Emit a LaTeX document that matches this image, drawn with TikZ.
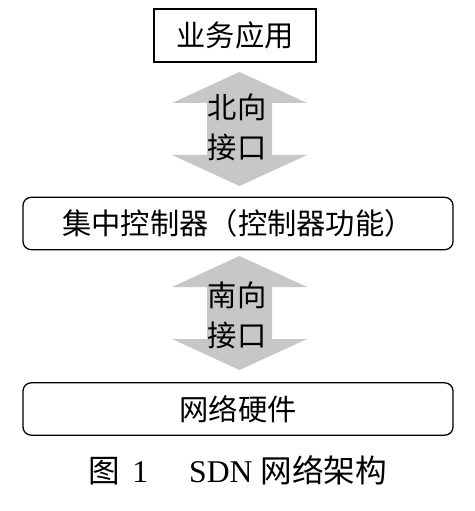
\documentclass[tikz,border=0pt]{standalone}
\usepackage{fontspec}
\setmainfont{Liberation Serif}
\newfontfamily\cjk{Noto Sans CJK SC}
\usetikzlibrary{positioning}

\begin{document}
\begin{tikzpicture}[x=0.03cm, y=-0.03cm,
    layer/.style={draw, line width=1.1pt, rounded corners=7pt,
                  minimum width=12.9cm, minimum height=1.57cm,
                  font=\cjk\fontsize{25}{28}\selectfont},
    iface/.style={fill=black!22},
    iflabel/.style={align=center, inner sep=0pt,
                    font=\cjk\fontsize{25}{34}\selectfont}]
  \useasboundingbox (0,0) rectangle (474,511);

  % layers
  \node[draw, line width=1.5pt, minimum width=4.86cm, minimum height=1.59cm,
        font=\cjk\fontsize{25}{28}\selectfont] (app) at (235,35.5) {业务应用};
  \node[layer] (ctrl) at (238,223.5) {集中控制器（控制器功能）};
  \node[layer] (hw) at (238,409) {网络硬件};

  % interfaces (double arrows)
  \foreach \ya in {72, 256} {
    \fill[iface] (239.5,\ya) -- ++(67.5,31) -- ++(-35,0) -- ++(0,52)
      -- ++(35,0) -- ++(-67.5,31) -- ++(-67.5,-31) -- ++(35,0)
      -- ++(0,-52) -- ++(-35,0) -- cycle;
  }
  \node[iflabel] (north) at (237,127.5) {北向\\接口};
  \node[iflabel] (south) at (237,315) {南向\\接口};

  % caption
  \node[font=\fontsize{27}{30}\selectfont] (caption) at (237.5,470)
    {{\cjk 图}\hspace{0.4em}1\hspace{1.3em}SDN {\cjk 网络架构}};
\end{tikzpicture}
\end{document}
